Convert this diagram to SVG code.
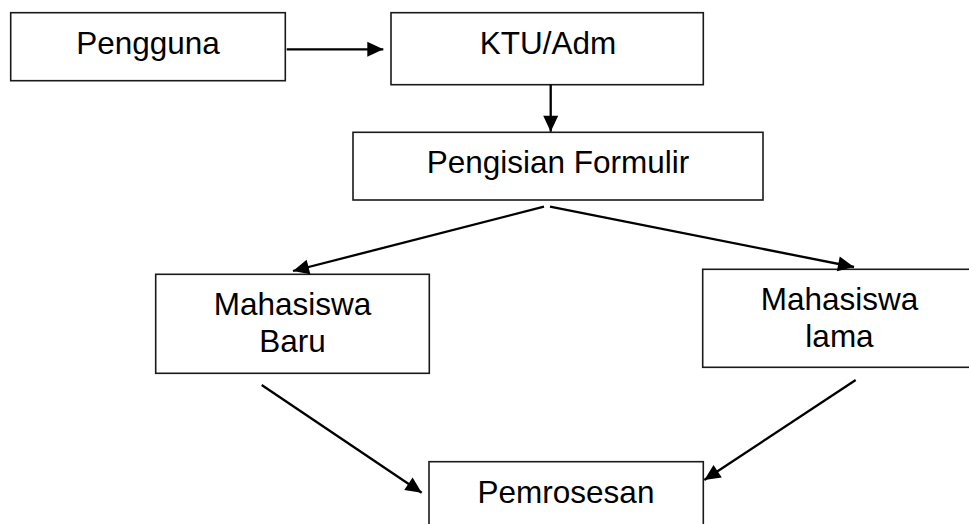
<svg xmlns="http://www.w3.org/2000/svg" width="969" height="524" viewBox="0 0 969 524">
  <style>
    .box { fill: #ffffff; stroke: #1a1a1a; stroke-width: 1.6; }
    .label { font-family: "Liberation Sans", Arial, sans-serif; font-size: 31.5px; fill: #000000; text-anchor: middle; }
    .conn { stroke: #000000; stroke-width: 2.3; fill: none; marker-end: url(#head); }
  </style>
  <defs>
    <marker id="head" markerUnits="userSpaceOnUse" markerWidth="18" markerHeight="16" refX="16" refY="0" viewBox="0 -8 17 16" orient="auto" overflow="visible">
      <path d="M0,-7.5 L16,0 L0,7.5 z" fill="#000000"/>
    </marker>
  </defs>
  <rect width="969" height="524" fill="#ffffff"/>

  <g id="pengguna">
    <rect class="box" x="10.7" y="12.7" width="274.6" height="68"/>
    <text class="label" x="148" y="54.3">Pengguna</text>
  </g>

  <g id="ktu-adm">
    <rect class="box" x="391" y="12.7" width="312.3" height="72"/>
    <text class="label" x="548" y="54.3">KTU/Adm</text>
  </g>

  <g id="pengisian-formulir">
    <rect class="box" x="353" y="132.3" width="410" height="67.7"/>
    <text class="label" x="558" y="172.7">Pengisian Formulir</text>
  </g>

  <g id="mahasiswa-baru">
    <rect class="box" x="155.7" y="274.3" width="273.6" height="99"/>
    <text class="label" x="292.5" y="315">Mahasiswa</text>
    <text class="label" x="292.5" y="351.7">Baru</text>
  </g>

  <g id="mahasiswa-lama">
    <rect class="box" x="702.7" y="269.3" width="280" height="98"/>
    <text class="label" x="839.5" y="310">Mahasiswa</text>
    <text class="label" x="839.5" y="346.7">lama</text>
  </g>

  <g id="pemrosesan">
    <rect class="box" x="429" y="461.7" width="274.3" height="80"/>
    <text class="label" x="566" y="503.3">Pemrosesan</text>
  </g>

  <g id="connectors">
    <line class="conn" x1="286.7" y1="49.3" x2="383.3" y2="49.3"/>
    <line class="conn" x1="550.7" y1="84.7" x2="550.7" y2="131.7"/>
    <line class="conn" x1="544" y1="206.7" x2="293" y2="271"/>
    <line class="conn" x1="550" y1="206.7" x2="854" y2="267"/>
    <line class="conn" x1="261.7" y1="385" x2="421.7" y2="492.7"/>
    <line class="conn" x1="855.7" y1="380" x2="704.3" y2="480"/>
  </g>
</svg>
